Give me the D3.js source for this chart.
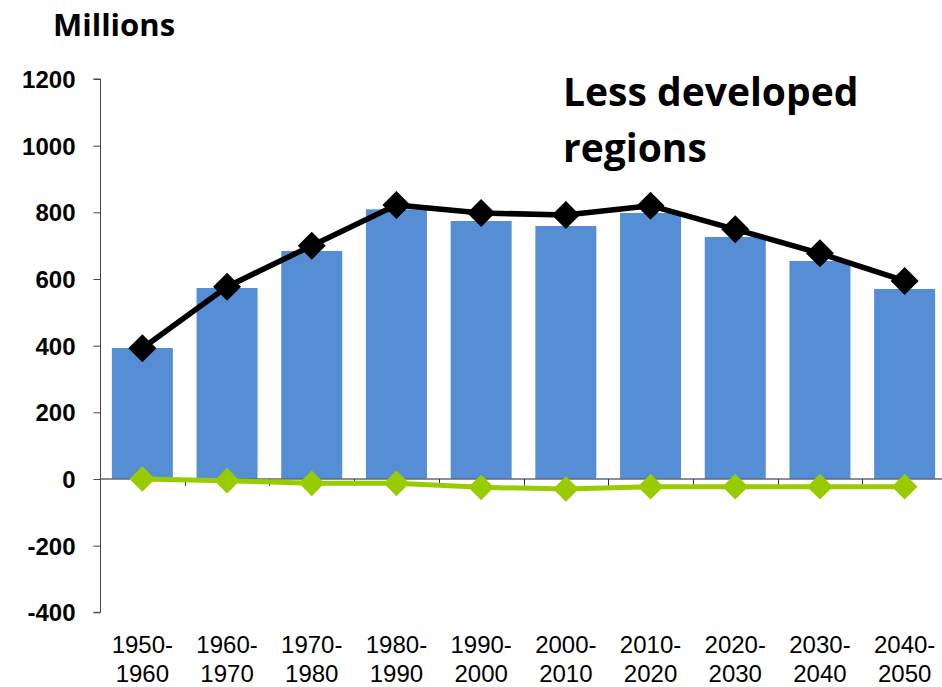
<!DOCTYPE html>
<html>
<head>
<meta charset="utf-8">
<script src="https://cdn.jsdelivr.net/npm/d3@7"></script>
<style>
  body { margin: 0; background: #fff; }
  svg { display: block; }
</style>
</head>
<body>
<svg id="chart"></svg>
<script>
// data
var periods = ["1950-1960", "1960-1970", "1970-1980", "1980-1990", "1990-2000",
               "2000-2010", "2010-2020", "2020-2030", "2030-2040", "2040-2050"];
var barValues = [393, 573, 684, 809, 774, 759, 798, 726, 654, 570];
var blackValues = [392, 577, 700, 822, 798, 792, 820, 749, 677, 594];
var greenValues = [0, -5, -13, -13, -25, -30, -23, -23, -23, -23];
var yTicks = [-400, -200, 0, 200, 400, 600, 800, 1000, 1200];

var width = 942, height = 687;

var svg = d3.select("#chart")
            .attr("width", width)
            .attr("height", height);

var x = d3.scaleBand()
          .domain(periods)
          .range([100, 947])
          .paddingInner(0.28)
          .paddingOuter(0.14);

var y = d3.scaleLinear()
          .domain([-400, 1200])
          .range([612.3, 79]);

var cx = d => x(d) + x.bandwidth() / 2;

// bars
svg.append("g")
   .selectAll("rect")
   .data(periods)
   .enter()
   .append("rect")
     .attr("x", d => x(d))
     .attr("width", x.bandwidth())
     .attr("y", (d, i) => y(barValues[i]))
     .attr("height", (d, i) => y(0) - y(barValues[i]))
     .attr("fill", "#558ED5");

// zero line with category ticks
svg.append("line")
   .attr("x1", 100).attr("x2", 947)
   .attr("y1", y(0)).attr("y2", y(0))
   .attr("stroke", "#5f6a78")
   .attr("stroke-width", 1.5);

svg.append("g")
   .selectAll("line")
   .data(periods.slice(1))
   .enter()
   .append("line")
     .attr("x1", d => Math.round(x(d) - x.step() * x.paddingInner() / 2) + 0.5)
     .attr("x2", d => Math.round(x(d) - x.step() * x.paddingInner() / 2) + 0.5)
     .attr("y1", y(0))
     .attr("y2", y(0) + 7)
     .attr("stroke", "#333")
     .attr("stroke-width", 1);

// y axis
var yAxis = d3.axisLeft(y)
              .tickValues(yTicks)
              .tickSize(7)
              .tickPadding(18)
              .tickFormat(d => String(d));

var yg = svg.append("g")
            .attr("transform", "translate(100.5,0)")
            .call(yAxis);

yg.select(".domain").attr("stroke", "#444").attr("d", "M-7," + y(1200) + "H0V" + y(-400) + "H-7");
yg.selectAll(".tick line").attr("stroke", "#444");
yg.selectAll(".tick text")
  .attr("font-family", "Liberation Sans, Arial, sans-serif")
  .attr("font-weight", "bold")
  .attr("font-size", 24)
  .attr("fill", "#000")
  .attr("dy", "0.36em");

// lines with diamond markers
var lineGen = d3.line()
                .x(d => cx(d.p))
                .y(d => y(d.v));

function drawSeries(values, color, lw, msize) {
    var pts = periods.map((p, i) => ({ p: p, v: values[i] }));
    svg.append("path")
       .datum(pts)
       .attr("d", lineGen)
       .attr("fill", "none")
       .attr("stroke", color)
       .attr("stroke-width", lw)
       .attr("stroke-linejoin", "round");
    svg.append("g")
       .selectAll("path")
       .data(pts)
       .enter()
       .append("path")
         .attr("transform", d => "translate(" + cx(d.p) + "," + y(d.v) + ")")
         .attr("d", d3.symbol().type(d3.symbolDiamond2).size(msize))
         .attr("fill", color);
}

drawSeries(greenValues, "#99CC00", 5, 420);
drawSeries(blackValues, "#000000", 5.5, 500);

// x labels, two lines each
var xl = svg.append("g")
            .selectAll("text")
            .data(periods)
            .enter()
            .append("text")
              .attr("text-anchor", "middle")
              .attr("font-family", "Liberation Sans, Arial, sans-serif")
              .attr("font-size", 24)
              .attr("fill", "#000");

xl.append("tspan")
  .attr("x", d => cx(d))
  .attr("y", 653)
  .text(d => d.split("-")[0] + "-");

xl.append("tspan")
  .attr("x", d => cx(d))
  .attr("y", 682)
  .text(d => d.split("-")[1]);

// titles
svg.append("text")
   .attr("x", 53)
   .attr("y", 36)
   .attr("font-family", "Open Sans, sans-serif")
   .attr("font-weight", "bold")
   .attr("font-size", 31)
   .text("Millions");

var title = svg.append("text")
               .attr("font-family", "Open Sans, sans-serif")
               .attr("font-weight", "bold")
               .attr("font-size", 39);

title.append("tspan").attr("x", 563).attr("y", 106).text("Less developed");
title.append("tspan").attr("x", 563).attr("y", 162).text("regions");
</script>
</body>
</html>
